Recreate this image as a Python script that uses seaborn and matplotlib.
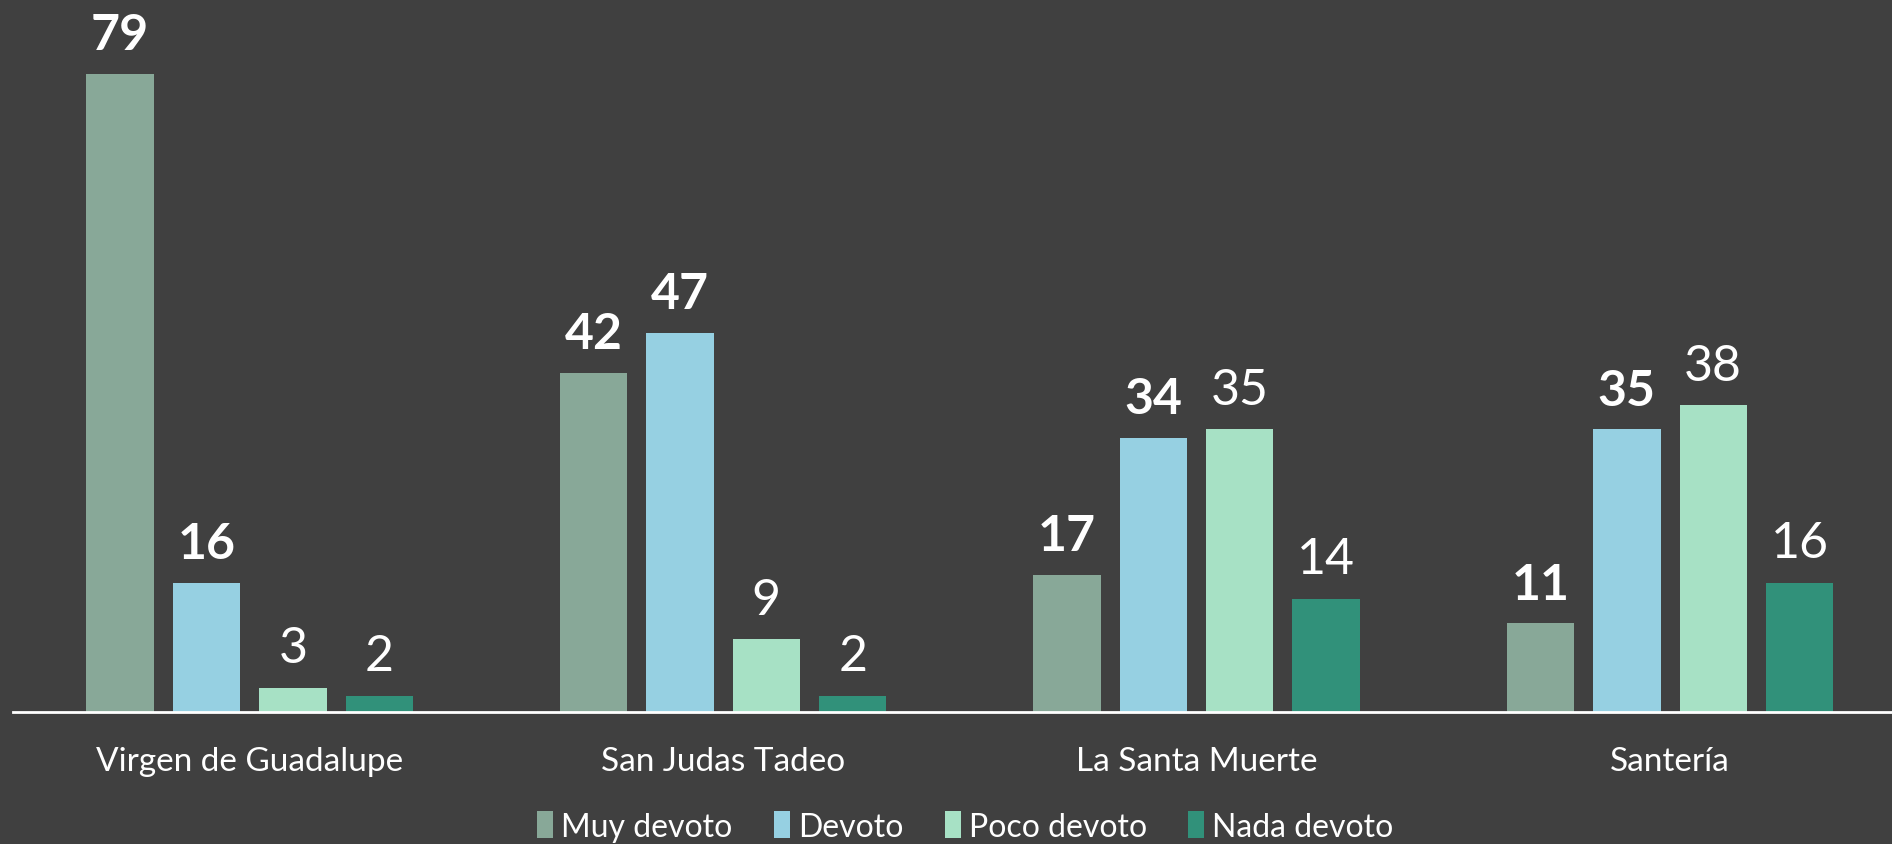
import pandas as pd
import matplotlib.pyplot as plt
import seaborn as sns

# datos
categorias = ['Virgen de Guadalupe', 'San Judas Tadeo', 'La Santa Muerte', 'Santería']
niveles = ['Muy devoto', 'Devoto', 'Poco devoto', 'Nada devoto']
muy_devoto = [79, 42, 17, 11]
devoto = [16, 47, 34, 35]
poco_devoto = [3, 9, 35, 38]
nada_devoto = [2, 2, 14, 16]

colores = ['#88A898', '#96D0E2', '#A7E1C5', '#31917A']
fondo = '#404040'

df = pd.DataFrame({
    'categoria': categorias * 4,
    'nivel': sum([[n] * 4 for n in niveles], []),
    'valor': muy_devoto + devoto + poco_devoto + nada_devoto,
})

sns.set_style('dark')
plt.rcParams['font.family'] = ['Lato', 'DejaVu Sans']

fig = plt.figure(figsize=(18.92, 8.45), dpi=100, facecolor=fondo)
ax = fig.add_axes([0.0068, 0.156, 1.001, 0.844])
ax.set_facecolor(fondo)

sns.barplot(data=df, x='categoria', y='valor', hue='nivel', order=categorias,
            hue_order=niveles, palette=colores, width=0.73, gap=0.22,
            saturation=1, edgecolor='none', linewidth=0, ax=ax, legend=True)

# etiquetas: las dos primeras series en negrita
for i, cont in enumerate(ax.containers):
    ax.bar_label(cont, padding=12, color='white', fontsize=36,
                 fontweight='bold' if i < 2 else 'normal')

ax.set_xlim(-0.5, 3.5)
ax.set_ylim(0, 88.3)
ax.set_xlabel('')
ax.set_ylabel('')
ax.set_yticks([])
ax.grid(False)
for s in ['top', 'right', 'left']:
    ax.spines[s].set_visible(False)
ax.spines['bottom'].set_color('white')
ax.spines['bottom'].set_linewidth(2)
ax.tick_params(axis='x', length=0, pad=24, labelsize=24, labelcolor='white')

leg = ax.legend(loc='lower center', bbox_to_anchor=(0.503, -0.222), ncol=4,
                frameon=False, fontsize=23, labelcolor='white',
                handlelength=0.5, handleheight=0.9, handletextpad=0.25,
                columnspacing=1.3)

fig.savefig('out.png', dpi=100, facecolor=fondo)
